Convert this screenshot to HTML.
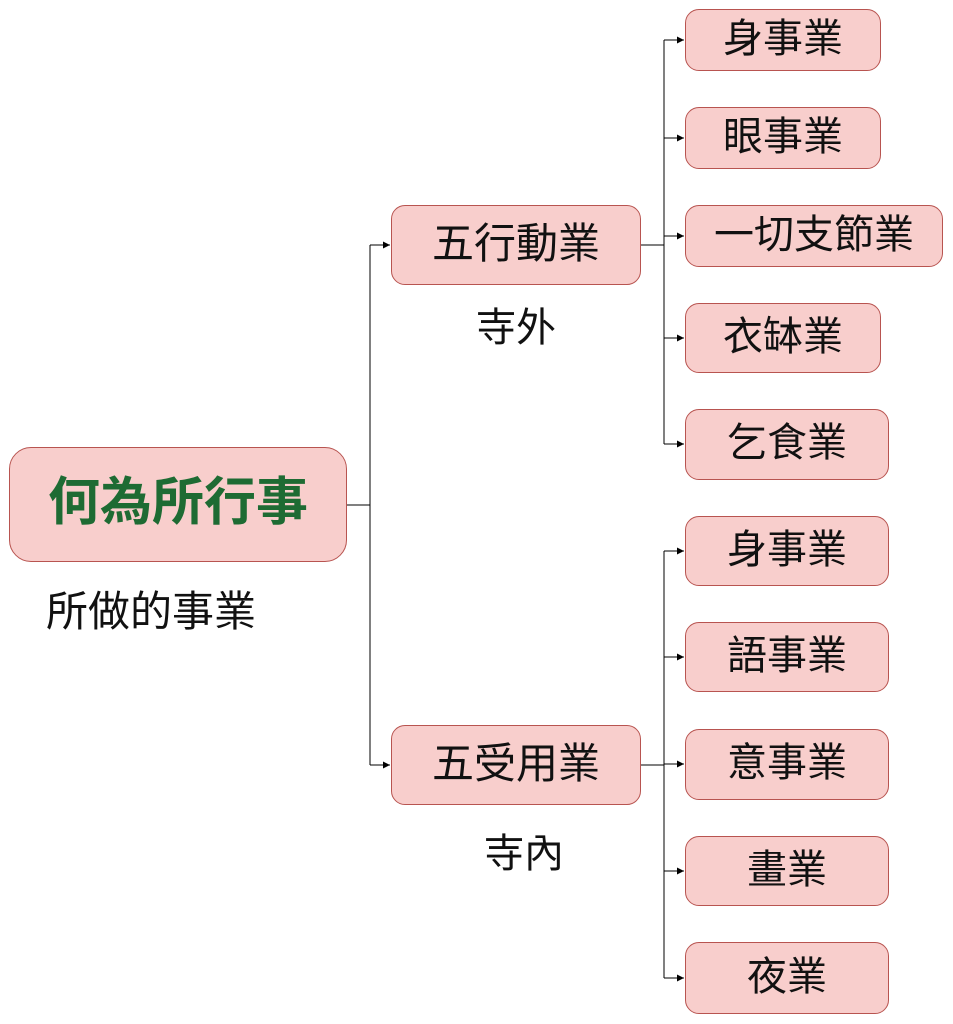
<!DOCTYPE html>
<html><head><meta charset="utf-8"><style>
body{margin:0;width:953px;height:1024px;background:#fff;position:relative;overflow:hidden;font-family:"Liberation Sans","Noto Sans CJK TC",sans-serif}
.b{position:absolute;box-sizing:border-box;background:#f8cecc;border:1.3px solid #b85450;border-radius:14px;display:flex;align-items:center;justify-content:center;color:#111;font-size:40px;line-height:1;padding-bottom:3px}
.t{position:absolute;font-size:40px;color:#111;white-space:nowrap;line-height:1}
svg{position:absolute;left:0;top:0}
</style></head><body>
<svg width="953" height="1024">
<defs><marker id="a" markerWidth="8" markerHeight="8" refX="7" refY="4" orient="auto" markerUnits="userSpaceOnUse"><path d="M0,0.5 L7,4 L0,7.5z" fill="#000"/></marker></defs>
<g stroke="#000" stroke-width="1" fill="none">
<path d="M347,505H370"/><path d="M370,245V765"/>
<path d="M370,245H390" marker-end="url(#a)"/><path d="M370,765H390" marker-end="url(#a)"/>
<path d="M641,245H664"/><path d="M664,40V444"/>
<path d="M664,40H684" marker-end="url(#a)"/><path d="M664,138H684" marker-end="url(#a)"/><path d="M664,236H684" marker-end="url(#a)"/><path d="M664,338H684" marker-end="url(#a)"/><path d="M664,444H684" marker-end="url(#a)"/>
<path d="M641,765H664"/><path d="M664,551V978"/>
<path d="M664,551H684" marker-end="url(#a)"/><path d="M664,657H684" marker-end="url(#a)"/><path d="M664,764H684" marker-end="url(#a)"/><path d="M664,871H684" marker-end="url(#a)"/><path d="M664,978H684" marker-end="url(#a)"/>
</g></svg>
<div class="b" style="left:9px;top:447px;width:338px;height:115px;border-radius:22px;color:#1e6b33;font-weight:bold;font-size:52px">何為所行事</div>
<div class="t" style="left:46px;top:591px;font-size:42px">所做的事業</div>
<div class="b" style="left:391px;top:205px;width:250px;height:80px;font-size:42px">五行動業</div>
<div class="t" style="left:476px;top:308px">寺外</div>
<div class="b" style="left:391px;top:725px;width:250px;height:80px;font-size:42px">五受用業</div>
<div class="t" style="left:484px;top:834px">寺內</div>
<div class="b" style="left:685px;top:9px;width:196px;height:62px">身事業</div>
<div class="b" style="left:685px;top:107px;width:196px;height:62px">眼事業</div>
<div class="b" style="left:685px;top:205px;width:258px;height:62px">一切支節業</div>
<div class="b" style="left:685px;top:303px;width:196px;height:70px">衣缽業</div>
<div class="b" style="left:685px;top:409px;width:204px;height:71px">乞食業</div>
<div class="b" style="left:685px;top:516px;width:204px;height:70px">身事業</div>
<div class="b" style="left:685px;top:622px;width:204px;height:70px">語事業</div>
<div class="b" style="left:685px;top:729px;width:204px;height:71px">意事業</div>
<div class="b" style="left:685px;top:836px;width:204px;height:70px">畫業</div>
<div class="b" style="left:685px;top:942px;width:204px;height:72px">夜業</div>
</body></html>
